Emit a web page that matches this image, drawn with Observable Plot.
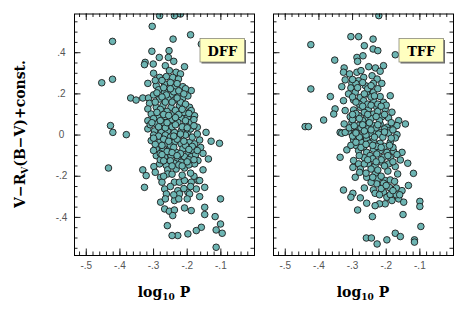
<!DOCTYPE html>
<html><head><meta charset="utf-8">
<script src="https://cdn.jsdelivr.net/npm/d3@7"></script>
<script src="https://cdn.jsdelivr.net/npm/@observablehq/plot@0.6"></script>
<style>
body{margin:0;background:#fff;}
#wrap{position:relative;width:463px;height:310px;overflow:hidden;}
#wrap svg{position:absolute;top:0;}
</style></head><body><div id="wrap"></div>
<script>
// DFF panel: [log10 P, V-Rv(B-V)+const.]
const dffPoints = [
[-0.282,0.580],[-0.238,0.580],[-0.220,0.588],[-0.304,0.528],[-0.190,0.487],[-0.422,0.455],[-0.242,0.466],[-0.158,0.442],
[-0.305,0.407],[-0.254,0.410],[-0.283,0.377],[-0.256,0.377],[-0.325,0.353],[-0.301,0.345],[-0.240,0.358],[-0.265,0.337],
[-0.208,0.332],[-0.327,0.342],[-0.454,0.254],[-0.422,0.271],[-0.253,0.313],[-0.233,0.305],[-0.220,0.297],[-0.243,0.280],
[-0.282,0.280],[-0.262,0.284],[-0.226,0.272],[-0.317,0.251],[-0.292,0.240],[-0.267,0.248],[-0.238,0.232],[-0.213,0.235],
[-0.188,0.216],[-0.368,0.180],[-0.352,0.170],[-0.332,0.180],[-0.315,0.180],[-0.312,0.154],[-0.267,0.208],[-0.248,0.191],
[-0.228,0.200],[-0.257,0.175],[-0.238,0.170],[-0.213,0.180],[-0.198,0.190],[-0.282,0.175],[-0.317,0.127],[-0.292,0.135],
[-0.272,0.143],[-0.248,0.135],[-0.223,0.143],[-0.193,0.135],[-0.188,0.119],[-0.178,0.094],[-0.307,0.102],[-0.287,0.086],
[-0.267,0.089],[-0.243,0.099],[-0.218,0.083],[-0.198,0.089],[-0.317,0.070],[-0.292,0.054],[-0.272,0.062],[-0.253,0.046],
[-0.228,0.062],[-0.208,0.046],[-0.188,0.062],[-0.428,0.046],[-0.421,0.013],[-0.381,0.002],[-0.170,0.038],[-0.144,0.013],
[-0.317,0.030],[-0.297,0.020],[-0.277,0.013],[-0.258,0.020],[-0.238,0.013],[-0.218,0.020],[-0.198,0.013],
[-0.129,-0.030],[-0.104,-0.040],[-0.307,-0.027],[-0.282,-0.035],[-0.262,-0.043],[-0.238,-0.035],[-0.218,-0.043],[-0.193,-0.035],
[-0.178,-0.043],[-0.163,-0.024],[-0.292,-0.067],[-0.272,-0.075],[-0.253,-0.067],[-0.233,-0.084],[-0.213,-0.067],[-0.198,-0.092],
[-0.183,-0.075],[-0.153,-0.089],[-0.292,-0.100],[-0.267,-0.108],[-0.248,-0.100],[-0.228,-0.116],[-0.208,-0.105],[-0.188,-0.105],
[-0.168,-0.124],[-0.137,-0.116],[-0.434,-0.160],[-0.332,-0.169],[-0.299,-0.153],[-0.282,-0.140],[-0.262,-0.148],[-0.238,-0.137],
[-0.208,-0.160],[-0.233,-0.165],[-0.178,-0.140],[-0.153,-0.169],[-0.218,-0.132],[-0.258,-0.169],[-0.322,-0.197],[-0.295,-0.181],
[-0.279,-0.205],[-0.258,-0.189],[-0.275,-0.229],[-0.238,-0.229],[-0.223,-0.229],[-0.208,-0.221],[-0.188,-0.229],[-0.168,-0.221],
[-0.148,-0.254],[-0.173,-0.262],[-0.163,-0.221],[-0.327,-0.254],[-0.267,-0.262],[-0.262,-0.286],[-0.228,-0.270],[-0.223,-0.286],
[-0.198,-0.278],[-0.193,-0.286],[-0.163,-0.299],[-0.238,-0.318],[-0.200,-0.310],[-0.101,-0.310],[-0.279,-0.326],[-0.267,-0.359],
[-0.253,-0.370],[-0.238,-0.364],[-0.243,-0.391],[-0.208,-0.354],[-0.188,-0.367],[-0.148,-0.351],[-0.148,-0.386],[-0.259,-0.440],
[-0.117,-0.396],[-0.101,-0.432],[-0.158,-0.448],[-0.173,-0.464],[-0.198,-0.480],[-0.228,-0.488],[-0.245,-0.488],[-0.114,-0.461],
[-0.096,-0.477],[-0.114,-0.545],
[-0.300,0.300],[-0.275,0.265],[-0.250,0.255],[-0.230,0.250],[-0.205,0.225],[-0.285,0.220],[-0.300,0.195],[-0.262,0.195],
[-0.240,0.210],[-0.220,0.160],[-0.205,0.150],[-0.295,0.160],[-0.280,0.125],[-0.260,0.115],[-0.235,0.120],[-0.210,0.110],
[-0.300,0.080],[-0.280,0.070],[-0.245,0.075],[-0.225,0.100],[-0.205,0.070],[-0.180,0.075],[-0.310,0.050],[-0.265,0.035],
[-0.245,0.040],[-0.215,0.040],[-0.190,0.030],[-0.300,0.000],[-0.285,-0.005],[-0.265,0.000],[-0.250,-0.010],[-0.225,-0.005],
[-0.205,0.000],[-0.185,-0.010],[-0.170,0.005],[-0.295,-0.045],[-0.270,-0.020],[-0.250,-0.050],[-0.230,-0.020],[-0.205,-0.050],
[-0.185,-0.055],[-0.160,-0.060],[-0.280,-0.090],[-0.260,-0.080],[-0.240,-0.060],[-0.220,-0.090],[-0.195,-0.120],[-0.175,-0.095],
[-0.280,-0.120],[-0.250,-0.125],[-0.225,-0.145],[-0.195,-0.145],[-0.270,-0.200],[-0.245,-0.190],[-0.215,-0.195],[-0.190,-0.250],
[-0.250,-0.250],[-0.210,-0.260],[-0.180,-0.200],[-0.240,-0.290],[-0.225,-0.310],[-0.265,-0.310],
[-0.295,0.265],[-0.270,0.230],[-0.250,0.225],[-0.225,0.215],[-0.290,0.205],[-0.275,0.185],[-0.245,0.160],[-0.230,0.180],
[-0.210,0.200],[-0.265,0.160],[-0.290,0.110],[-0.270,0.100],[-0.255,0.095],[-0.235,0.085],[-0.215,0.125],[-0.195,0.105],
[-0.305,0.060],[-0.285,0.040],[-0.260,0.060],[-0.235,0.050],[-0.220,0.005],[-0.200,0.035],[-0.180,0.045],[-0.300,-0.015],
[-0.275,-0.050],[-0.255,-0.030],[-0.240,-0.005],[-0.210,-0.030],[-0.195,-0.070],[-0.170,-0.075],[-0.300,-0.075],[-0.275,-0.095],
[-0.245,-0.085],[-0.230,-0.100],[-0.200,-0.130],[-0.180,-0.120],[-0.270,-0.125],[-0.245,-0.150],[-0.215,-0.150],[-0.190,-0.185]
];
// TFF panel
const tffPoints = [
[-0.222,0.580],[-0.305,0.478],[-0.282,0.478],[-0.239,0.466],[-0.424,0.439],[-0.265,0.434],[-0.239,0.418],[-0.225,0.410],
[-0.287,0.377],[-0.269,0.385],[-0.285,0.358],[-0.173,0.390],[-0.353,0.364],[-0.325,0.326],[-0.327,0.305],[-0.309,0.297],
[-0.287,0.305],[-0.275,0.313],[-0.252,0.332],[-0.232,0.326],[-0.208,0.337],[-0.218,0.310],[-0.267,0.280],[-0.242,0.288],
[-0.227,0.272],[-0.322,0.268],[-0.302,0.251],[-0.282,0.264],[-0.262,0.240],[-0.238,0.251],[-0.213,0.251],[-0.332,0.235],
[-0.305,0.229],[-0.424,0.224],[-0.366,0.187],[-0.327,0.167],[-0.312,0.200],[-0.292,0.208],[-0.277,0.183],[-0.258,0.200],
[-0.238,0.208],[-0.218,0.187],[-0.188,0.191],[-0.297,0.170],[-0.267,0.167],[-0.238,0.167],[-0.208,0.159],[-0.352,0.127],
[-0.356,0.102],[-0.386,0.073],[-0.322,0.119],[-0.297,0.122],[-0.277,0.135],[-0.253,0.127],[-0.228,0.135],[-0.203,0.127],
[-0.183,0.111],[-0.307,0.089],[-0.282,0.094],[-0.258,0.086],[-0.238,0.102],[-0.213,0.089],[-0.193,0.083],[-0.163,0.070],
[-0.143,0.054],[-0.441,0.041],[-0.431,0.041],[-0.325,0.054],[-0.302,0.062],[-0.282,0.046],[-0.262,0.054],[-0.238,0.046],
[-0.218,0.054],[-0.198,0.038],[-0.178,0.046],[-0.168,0.046],[-0.337,0.013],[-0.312,0.018],[-0.287,0.021],[-0.262,0.013],
[-0.238,0.018],[-0.218,0.013],[-0.193,0.021],
[-0.332,0.009],[-0.322,0.013],[-0.292,0.013],[-0.272,-0.003],[-0.248,0.009],[-0.223,0.005],[-0.193,0.009],[-0.168,0.002],
[-0.297,-0.024],[-0.275,-0.035],[-0.258,-0.019],[-0.238,-0.027],[-0.218,-0.040],[-0.188,-0.035],[-0.173,-0.014],[-0.289,-0.051],
[-0.267,-0.059],[-0.317,-0.072],[-0.337,-0.108],[-0.282,-0.076],[-0.258,-0.084],[-0.238,-0.068],[-0.218,-0.076],[-0.198,-0.084],
[-0.178,-0.079],[-0.153,-0.084],[-0.248,-0.100],[-0.228,-0.092],[-0.208,-0.108],[-0.188,-0.108],[-0.168,-0.095],[-0.158,-0.121],
[-0.136,-0.137],[-0.297,-0.124],[-0.282,-0.140],[-0.299,-0.157],[-0.277,-0.165],[-0.253,-0.140],[-0.233,-0.148],[-0.213,-0.132],
[-0.193,-0.140],[-0.173,-0.153],[-0.166,-0.189],[-0.119,-0.186],[-0.292,-0.205],[-0.279,-0.181],[-0.258,-0.205],[-0.233,-0.189],
[-0.226,-0.213],[-0.203,-0.221],[-0.188,-0.218],[-0.228,-0.237],[-0.208,-0.234],[-0.327,-0.267],[-0.299,-0.283],[-0.305,-0.302],
[-0.277,-0.305],[-0.265,-0.257],[-0.238,-0.266],[-0.233,-0.283],[-0.208,-0.278],[-0.198,-0.302],[-0.188,-0.289],[-0.170,-0.257],
[-0.153,-0.270],[-0.134,-0.245],[-0.163,-0.310],[-0.148,-0.326],[-0.183,-0.318],[-0.203,-0.334],[-0.220,-0.334],[-0.258,-0.331],
[-0.233,-0.343],[-0.285,-0.364],[-0.241,-0.396],[-0.150,-0.386],[-0.100,-0.322],[-0.100,-0.347],[-0.097,-0.444],[-0.259,-0.500],
[-0.244,-0.500],[-0.227,-0.529],[-0.198,-0.509],[-0.173,-0.477],[-0.158,-0.493],[-0.116,-0.509],[-0.116,-0.520],
[-0.290,0.250],[-0.255,0.225],[-0.225,0.225],[-0.300,0.185],[-0.245,0.185],[-0.280,0.150],[-0.255,0.150],[-0.225,0.150],
[-0.200,0.145],[-0.290,0.105],[-0.265,0.110],[-0.225,0.115],[-0.205,0.100],[-0.300,0.075],[-0.270,0.070],[-0.245,0.080],
[-0.220,0.070],[-0.185,0.060],[-0.310,0.035],[-0.275,0.035],[-0.255,0.030],[-0.230,0.035],[-0.205,0.030],[-0.180,0.025],
[-0.300,-0.005],[-0.280,-0.010],[-0.260,0.000],[-0.235,-0.010],[-0.210,-0.010],[-0.185,-0.015],[-0.305,-0.050],[-0.275,-0.060],
[-0.250,-0.040],[-0.228,-0.055],[-0.205,-0.055],[-0.180,-0.060],[-0.265,-0.110],[-0.240,-0.115],[-0.215,-0.120],[-0.195,-0.100],
[-0.265,-0.140],[-0.245,-0.165],[-0.225,-0.170],[-0.195,-0.175],[-0.175,-0.225],[-0.245,-0.230],[-0.215,-0.260],[-0.170,-0.290],
[-0.300,0.270],[-0.270,0.255],[-0.245,0.240],[-0.285,0.230],[-0.265,0.200],[-0.235,0.190],[-0.290,0.160],[-0.270,0.140],
[-0.245,0.145],[-0.215,0.140],[-0.300,0.100],[-0.280,0.080],[-0.255,0.100],[-0.230,0.090],[-0.295,0.045],[-0.270,0.050],
[-0.250,0.060],[-0.225,0.050],[-0.290,0.010],[-0.265,0.020],[-0.245,0.025],[-0.205,0.015],[-0.290,-0.035],[-0.260,-0.045],
[-0.240,-0.050],[-0.215,-0.060],[-0.190,-0.050],[-0.280,-0.100],[-0.255,-0.120],[-0.230,-0.130],[-0.205,-0.150],[-0.180,-0.130],
[-0.260,-0.185],[-0.240,-0.205],[-0.215,-0.200],[-0.190,-0.255],[-0.180,-0.270],[-0.160,-0.290],[-0.200,-0.245],[-0.220,-0.290]
];
const panelNames = ["DFF", "TFF"];
const xTickValues = [-0.5, -0.4, -0.3, -0.2, -0.1];
const yTickValues = [-0.4, -0.2, 0, 0.2, 0.4];
const xDomain = [-0.535, 0];
const yDomain = [-0.585, 0.588];
const xTitle = ["log", "10", " P"];
const yTitle = ["V\u2212R", "V", "(B\u2212V)+const."];

function fmt(d) {
  if (Math.abs(d) < 1e-9) return "0";
  return (d < 0 ? "-" : "") + Math.abs(d).toFixed(1).slice(1);
}

const xMinor = d3.range(-26, 0).map(i => +(i * 0.02).toFixed(2));
const yMinor = d3.range(-11, 12).map(i => +(i * 0.05).toFixed(2));

const wrap = document.getElementById("wrap");

function panel(points, name, showYLabels, left, width, mL, mR) {
  const H = 310, mT = 13.5, mB = 55;
  const innerH = H - mT - mB, innerW = width - mL - mR;
  const tickCol = "#222";
  const minorLen = 3.5, majorLen = 6.5;
  const marks = [
    Plot.dot(points, {x: d => d[0], y: d => d[1], r: 3.3, fill: "#6db5b3", stroke: "#1b1b1b", strokeWidth: 0.9, clip: true}),
    Plot.tickX(xMinor, {x: d => d, insetTop: innerH - minorLen, stroke: tickCol}),
    Plot.tickX(xMinor, {x: d => d, insetBottom: innerH - minorLen, stroke: tickCol}),
    Plot.tickX(xTickValues, {x: d => d, insetTop: innerH - majorLen, stroke: tickCol}),
    Plot.tickX(xTickValues, {x: d => d, insetBottom: innerH - majorLen, stroke: tickCol}),
    Plot.tickY(yMinor, {y: d => d, insetRight: innerW - minorLen, stroke: tickCol}),
    Plot.tickY(yMinor, {y: d => d, insetLeft: innerW - minorLen, stroke: tickCol}),
    Plot.tickY(yTickValues, {y: d => d, insetRight: innerW - majorLen, stroke: tickCol}),
    Plot.tickY(yTickValues, {y: d => d, insetLeft: innerW - majorLen, stroke: tickCol}),
    Plot.frame({stroke: "#000", strokeWidth: 1}),
    Plot.text(xTickValues, {x: d => d, frameAnchor: "bottom", dy: 13, text: fmt, fontSize: 10, fill: "#555", fontFamily: "Liberation Sans"})
  ];
  if (showYLabels) {
    marks.push(Plot.text(yTickValues, {y: d => d, frameAnchor: "left", dx: -13, text: fmt, textAnchor: "middle", fontSize: 10, fill: "#555", fontFamily: "Liberation Sans"}));
  }
  const svg = Plot.plot({
    width, height: H,
    marginLeft: mL, marginRight: mR, marginTop: mT, marginBottom: mB,
    x: {domain: xDomain, axis: null},
    y: {domain: yDomain, axis: null},
    style: {background: "transparent", overflow: "visible"},
    marks
  });
  svg.style.left = left + "px";
  wrap.appendChild(svg);
  const s = d3.select(svg);
  const bx = width - mR - 9.5 - 44.5, by = mT + 25, bw = 44.5, bh = 23.5;
  const g = s.append("g");
  g.append("rect").attr("x", bx + 1.5).attr("y", by + 1.5).attr("width", bw).attr("height", bh).attr("fill", "#6a6a6a");
  g.append("rect").attr("x", bx).attr("y", by).attr("width", bw).attr("height", bh).attr("fill", "#ffffc0").attr("stroke", "#8a8a7a").attr("stroke-width", 0.8);
  g.append("text").attr("x", bx + bw / 2).attr("y", by + 17).attr("text-anchor", "middle")
    .attr("font-family", "DejaVu Serif").attr("font-weight", "bold").attr("font-size", 13).attr("fill", "#000").text(name);
  const t = s.append("text").attr("x", mL + innerW / 2).attr("y", 297).attr("text-anchor", "middle")
    .attr("font-family", "DejaVu Serif").attr("font-weight", "bold").attr("font-size", 14).attr("fill", "#000");
  t.append("tspan").text(xTitle[0]);
  t.append("tspan").attr("font-size", 9).attr("dy", 3).text(xTitle[1]);
  t.append("tspan").attr("dy", -3).text(xTitle[2]);
  if (showYLabels) {
    const yt = s.append("text").attr("transform", "translate(24.5,134) rotate(-90)").attr("text-anchor", "middle")
      .attr("font-family", "DejaVu Serif").attr("font-weight", "bold").attr("font-size", 14).attr("fill", "#000");
    yt.append("tspan").text(yTitle[0]);
    yt.append("tspan").attr("font-size", 9).attr("dy", 3).text(yTitle[1]);
    yt.append("tspan").attr("dy", -3).text(yTitle[2]);
  }
}

panel(dffPoints, panelNames[0], true, 0, 258, 74, 4);
panel(tffPoints, panelNames[1], false, 258, 205, 15, 10);
</script></body></html>
